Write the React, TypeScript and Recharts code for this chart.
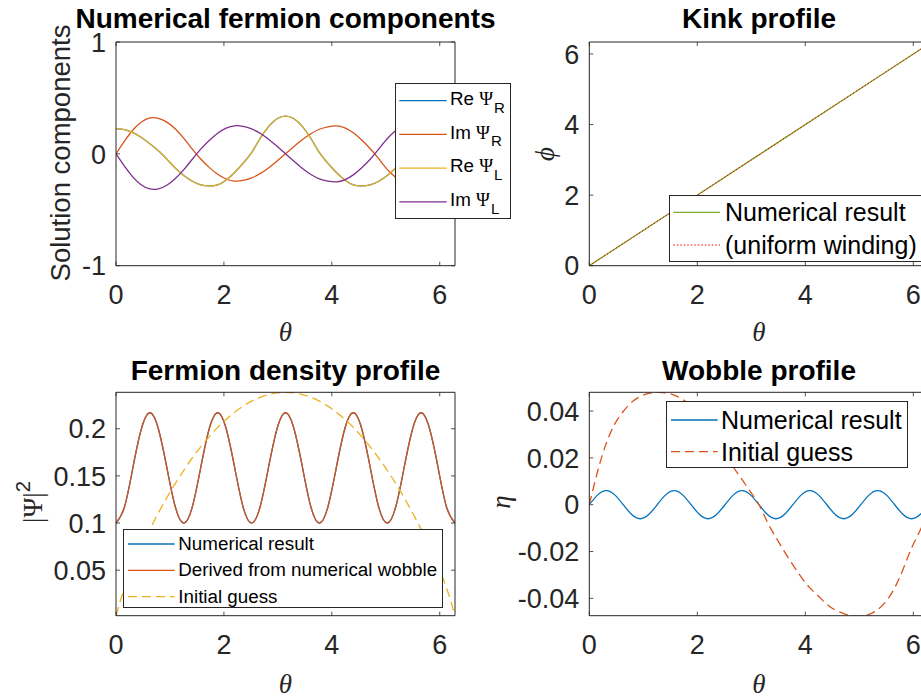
import React from 'react'
import { LineChart, Line, XAxis, YAxis, Legend } from 'recharts'

const theta = [0.000, 0.157, 0.314, 0.471, 0.628, 0.785, 0.942, 1.100, 1.257, 1.414, 1.571, 1.728, 1.885, 2.042, 2.199, 2.356, 2.513, 2.670, 2.827, 2.985, 3.142, 3.299, 3.456, 3.613, 3.770, 3.927, 4.084, 4.241, 4.398, 4.555, 4.712, 4.869, 5.027, 5.184, 5.341, 5.498, 5.655, 5.812, 5.969, 6.126, 6.283]

const fermionReR = [0.226, 0.216, 0.189, 0.146, 0.090, 0.027, -0.048, -0.126, -0.194, -0.245, -0.277, -0.286, -0.277, -0.233, -0.166, -0.084, 0.011, 0.137, 0.244, 0.314, 0.337, 0.314, 0.244, 0.137, 0.011, -0.084, -0.166, -0.233, -0.277, -0.286, -0.277, -0.245, -0.194, -0.126, -0.048, 0.027, 0.090, 0.146, 0.189, 0.216, 0.226]
const fermionImR = [0, 0.113, 0.213, 0.284, 0.321, 0.318, 0.284, 0.222, 0.139, 0.043, -0.046, -0.121, -0.183, -0.225, -0.244, -0.238, -0.215, -0.177, -0.126, -0.065, 0, 0.066, 0.128, 0.180, 0.220, 0.242, 0.250, 0.232, 0.188, 0.123, 0.046, -0.043, -0.139, -0.212, -0.284, -0.318, -0.321, -0.284, -0.213, -0.113, 0]
const fermionReL = [0.226, 0.216, 0.189, 0.146, 0.090, 0.027, -0.048, -0.126, -0.194, -0.245, -0.277, -0.286, -0.277, -0.233, -0.166, -0.084, 0.011, 0.137, 0.244, 0.314, 0.337, 0.314, 0.244, 0.137, 0.011, -0.084, -0.166, -0.233, -0.277, -0.286, -0.277, -0.245, -0.194, -0.126, -0.048, 0.027, 0.090, 0.146, 0.189, 0.216, 0.226]
const fermionImL = [0, -0.110, -0.208, -0.278, -0.314, -0.313, -0.281, -0.221, -0.141, -0.048, 0.042, 0.120, 0.185, 0.230, 0.251, 0.246, 0.223, 0.184, 0.131, 0.067, 0, -0.067, -0.131, -0.184, -0.223, -0.243, -0.250, -0.232, -0.188, -0.124, -0.048, 0.042, 0.135, 0.208, 0.270, 0.305, 0.310, 0.278, 0.210, 0.110, 0]

const kinkTheta = [0, 1.571, 3.142, 4.712, 6.283]
const kinkNumerical = [0, 1.571, 3.142, 4.712, 6.283]
const kinkUniform = [0, 1.571, 3.142, 4.712, 6.283]

const densityNumerical = [0.100, 0.117, 0.159, 0.200, 0.217, 0.200, 0.159, 0.117, 0.100, 0.117, 0.159, 0.200, 0.217, 0.200, 0.159, 0.117, 0.100, 0.117, 0.159, 0.200, 0.217, 0.200, 0.159, 0.117, 0.100, 0.117, 0.159, 0.200, 0.217, 0.200, 0.159, 0.117, 0.100, 0.117, 0.159, 0.200, 0.217, 0.200, 0.159, 0.117, 0.100]
const densityDerived = [0.100, 0.117, 0.159, 0.200, 0.217, 0.200, 0.159, 0.117, 0.100, 0.117, 0.159, 0.200, 0.217, 0.200, 0.159, 0.117, 0.100, 0.117, 0.159, 0.200, 0.217, 0.200, 0.159, 0.117, 0.100, 0.117, 0.159, 0.200, 0.217, 0.200, 0.159, 0.117, 0.100, 0.117, 0.159, 0.200, 0.217, 0.200, 0.159, 0.117, 0.100]
const densityGuess = [0.0017, 0.0312, 0.0541, 0.0745, 0.0933, 0.1107, 0.1269, 0.1420, 0.1560, 0.1690, 0.1809, 0.1917, 0.2015, 0.2101, 0.2176, 0.2240, 0.2293, 0.2334, 0.2363, 0.2381, 0.2387, 0.2381, 0.2363, 0.2334, 0.2293, 0.2240, 0.2176, 0.2101, 0.2015, 0.1917, 0.1809, 0.1690, 0.1560, 0.1420, 0.1269, 0.1107, 0.0933, 0.0745, 0.0541, 0.0312, 0.0017]

const wobbleNumerical = [0, 0.0042, 0.0060, 0.0042, 0, -0.0042, -0.0060, -0.0042, 0, 0.0042, 0.0060, 0.0042, 0, -0.0042, -0.0060, -0.0042, 0, 0.0042, 0.0060, 0.0042, 0, -0.0042, -0.0060, -0.0042, 0, 0.0042, 0.0060, 0.0042, 0, -0.0042, -0.0060, -0.0042, 0, 0.0042, 0.0060, 0.0042, 0, -0.0042, -0.0060, -0.0042, 0]
const wobbleGuess = [0, 0.0145, 0.0262, 0.0345, 0.0398, 0.0438, 0.0462, 0.0475, 0.0480, 0.0478, 0.0468, 0.0450, 0.0422, 0.0383, 0.0336, 0.0282, 0.0222, 0.0160, 0.0108, 0.0055, 0, -0.0075, -0.0140, -0.0200, -0.0257, -0.0310, -0.0355, -0.0390, -0.0425, -0.0450, -0.0465, -0.0474, -0.0476, -0.0468, -0.0448, -0.0412, -0.0355, -0.0275, -0.0185, -0.0110, -0.0030]

const thetaTicks = [0, 2, 4, 6]
const fermionTicks = [-1, 0, 1]
const kinkTicks = [0, 2, 4, 6]
const densityTicks = [0.05, 0.1, 0.15, 0.2]
const wobbleTicks = [-0.04, -0.02, 0, 0.02, 0.04]

const fermionData = theta.map((t, i) => ({ theta: t, reR: fermionReR[i], imR: fermionImR[i], reL: fermionReL[i], imL: fermionImL[i] }))
const kinkData = kinkTheta.map((t, i) => ({ theta: t, numerical: kinkNumerical[i], uniform: kinkUniform[i] }))
const densityData = theta.map((t, i) => ({ theta: t, numerical: densityNumerical[i], derived: densityDerived[i], guess: densityGuess[i] }))
const wobbleData = theta.map((t, i) => ({ theta: t, numerical: wobbleNumerical[i], guess: wobbleGuess[i] }))

const TWO_PI = 6.2832
const INK = '#262626'
const SANS = '"Liberation Sans", Arial, Helvetica, sans-serif'
const SERIF = '"Liberation Serif", "DejaVu Serif", serif'
const BLUE = '#0072BD'
const ORANGE = '#D95319'
const YELLOW = '#EDB120'
const PURPLE = '#7E2F8E'
const GREEN = '#77AC30'
const RED = '#FF0000'

// inward ticks like matlab, labels drawn by hand
const BottomTick = ({ x, y, payload }: any) => (
  <g>
    <line x1={x} x2={x} y1={y} y2={y - 4} stroke={INK} strokeWidth={0.8} />
    <text x={x} y={y + 38.5} textAnchor="middle" fontSize={27} fontFamily={SANS} fill={INK}>{String(payload.value)}</text>
  </g>
)
const LeftTick = ({ x, y, payload }: any) => (
  <g>
    <line x1={x} x2={x + 4} y1={y} y2={y} stroke={INK} strokeWidth={0.8} />
    <text x={x - 10} y={y + 9.7} textAnchor="end" fontSize={27} fontFamily={SANS} fill={INK}>{String(payload.value)}</text>
  </g>
)
const TopTick = ({ x, y }: any) => <line x1={x} x2={x} y1={y} y2={y + 4} stroke={INK} strokeWidth={0.8} />
const RightTick = ({ x, y }: any) => <line x1={x} x2={x - 4} y1={y} y2={y} stroke={INK} strokeWidth={0.8} />

function frame(yDomain: number[], yTicks: number[], yWidth: number, xHeight: number) {
  const common = { type: 'number' as const, allowDataOverflow: true, interval: 0 as const, tickSize: 0, tickMargin: 0, tickLine: false, axisLine: { stroke: INK } }
  return [
    <XAxis key="xb" {...common} dataKey="theta" domain={[0, TWO_PI]} ticks={thetaTicks} height={xHeight} tick={BottomTick} />,
    <XAxis key="xt" {...common} xAxisId="top" orientation="top" dataKey="theta" domain={[0, TWO_PI]} ticks={thetaTicks} height={1} tick={TopTick} />,
    <YAxis key="yl" {...common} domain={yDomain} ticks={yTicks} width={yWidth} tick={LeftTick} />,
    <YAxis key="yr" {...common} yAxisId="right" orientation="right" domain={yDomain} ticks={yTicks} width={1} tick={RightTick} />,
  ]
}

type Row = { label: React.ReactNode; color: string; dash?: string; width?: number }

const LegendBox = ({ rows, width, height, font, padTop, rowH, x1, x2, textX, textDy = 0 }: any) => (
  <div style={{ position: 'relative', width, height, boxSizing: 'border-box', border: `1px solid ${INK}`, background: '#fff' }}>
    <svg width={width} height={height} style={{ position: 'absolute', left: -1, top: -1 }}>
      {rows.map((r: Row, i: number) => (
        <line key={i} x1={x1} x2={x2} y1={padTop + i * rowH} y2={padTop + i * rowH} stroke={r.color} strokeWidth={r.width ?? 1.3} strokeDasharray={r.dash} />
      ))}
    </svg>
    {rows.map((r: Row, i: number) => (
      <div key={i} style={{ position: 'absolute', left: textX - 1, top: padTop + i * rowH + textDy - 1, transform: 'translateY(-50%)', fontSize: font, lineHeight: 1, whiteSpace: 'nowrap', color: '#000', fontFamily: SANS }}>
        {r.label}
      </div>
    ))}
  </div>
)

const psiLabel = (part: string, sub: string) => (
  <span>
    {part} <span style={{ fontFamily: SERIF }}>Ψ</span>
    <span style={{ fontSize: '0.8em', position: 'relative', top: '0.5em', marginLeft: 1 }}>{sub}</span>
  </span>
)

const fermionRows: Row[] = [
  { label: psiLabel('Re', 'R'), color: BLUE },
  { label: psiLabel('Im', 'R'), color: ORANGE },
  { label: psiLabel('Re', 'L'), color: YELLOW },
  { label: psiLabel('Im', 'L'), color: PURPLE },
]
const kinkRows: Row[] = [
  { label: 'Numerical result', color: GREEN },
  { label: '(uniform winding)', color: RED, dash: '1.5 2', width: 1 },
]
const densityRows: Row[] = [
  { label: 'Numerical result', color: BLUE },
  { label: 'Derived from numerical wobble', color: ORANGE },
  { label: 'Initial guess', color: YELLOW, dash: '9 5' },
]
const wobbleRows: Row[] = [
  { label: 'Numerical result', color: BLUE },
  { label: 'Initial guess', color: ORANGE, dash: '9 5' },
]

const Txt = ({ x, y, size = 27, rotate = false, bold = false, italic = false, serif = false, color = INK, lh = 1, children }: any) => (
  <div
    style={{
      position: 'absolute', left: x, top: y, transform: `translate(-50%, -50%)${rotate ? ' rotate(-90deg)' : ''}`,
      fontSize: size, lineHeight: lh, whiteSpace: 'nowrap', fontWeight: bold ? 700 : 400, fontStyle: italic ? 'italic' : 'normal',
      fontFamily: serif ? SERIF : SANS, color,
    }}
  >
    {children}
  </div>
)

const lineProps = { dot: false, isAnimationActive: false, type: 'natural' as const, strokeWidth: 1.3 }

export default function App() {
  return (
    <div style={{ position: 'absolute', left: 0, top: 0, width: 921, height: 698, overflow: 'hidden', background: '#fff', fontFamily: SANS }}>
      <div style={{ position: 'absolute', left: 0, top: 0 }}>
        <LineChart width={520} height={340} data={fermionData} margin={{ top: 41, right: 64, bottom: 0, left: 0 }}>
          {frame([-1, 1], fermionTicks, 116, 74.3)}
          <Line {...lineProps} dataKey="reR" name="Re ΨR" stroke={BLUE} />
          <Line {...lineProps} dataKey="imR" name="Im ΨR" stroke={ORANGE} />
          <Line {...lineProps} dataKey="reL" name="Re ΨL" stroke={YELLOW} />
          <Line {...lineProps} dataKey="imL" name="Im ΨL" stroke={PURPLE} />
          <Legend layout="vertical" align="center" verticalAlign="middle" wrapperStyle={{ left: 395, top: 83.3, width: 116, height: 136 }}
            content={() => <LegendBox rows={fermionRows} width={116} height={136} font={18.8} padTop={17.7} rowH={33.7} x1={4.3} x2={51.7} textX={55} textDy={-2} />} />
        </LineChart>
      </div>

      <div style={{ position: 'absolute', left: 460, top: 0 }}>
        <LineChart width={480} height={340} data={kinkData} margin={{ top: 41, right: 10.4, bottom: 0, left: 0 }}>
          {frame([0, 6.34], kinkTicks, 129.3, 74.3)}
          <Line dataKey="numerical" name="Numerical result" stroke={GREEN} strokeWidth={1.3} dot={false} type="linear" isAnimationActive={false} />
          <Line dataKey="uniform" name="(uniform winding)" stroke={RED} strokeWidth={1} strokeDasharray="1.5 2" dot={false} type="linear" isAnimationActive={false} />
          <Legend layout="vertical" align="center" verticalAlign="middle" wrapperStyle={{ left: 209, top: 195, width: 262, height: 67 }}
            content={() => <LegendBox rows={kinkRows} width={262} height={67} font={25} padTop={17.3} rowH={32.7} x1={4.3} x2={51} textX={56} />} />
        </LineChart>
      </div>

      <div style={{ position: 'absolute', left: 0, top: 340 }}>
        <LineChart width={470} height={358} data={densityData} margin={{ top: 51.3, right: 14, bottom: 0, left: 0 }}>
          {frame([0.0017, 0.2387], densityTicks, 116, 82.3)}
          <Line {...lineProps} dataKey="numerical" name="Numerical result" stroke={BLUE} />
          <Line {...lineProps} dataKey="derived" name="Derived from numerical wobble" stroke={ORANGE} />
          <Line {...lineProps} dataKey="guess" name="Initial guess" stroke={YELLOW} strokeDasharray="9 5" />
          <Legend layout="vertical" align="center" verticalAlign="middle" wrapperStyle={{ left: 123.3, top: 189, width: 319.4, height: 79 }}
            content={() => <LegendBox rows={densityRows} width={319.4} height={79} font={18.8} padTop={15} rowH={26.3} x1={5} x2={51.7} textX={55} />} />
        </LineChart>
      </div>

      <div style={{ position: 'absolute', left: 460, top: 340 }}>
        <LineChart width={480} height={358} data={wobbleData} margin={{ top: 51.3, right: 10.4, bottom: 0, left: 0 }}>
          {frame([-0.0474, 0.048], wobbleTicks, 129.3, 82.3)}
          <Line {...lineProps} dataKey="numerical" name="Numerical result" stroke={BLUE} />
          <Line {...lineProps} dataKey="guess" name="Initial guess" stroke={ORANGE} strokeDasharray="9 5" />
          <Legend layout="vertical" align="center" verticalAlign="middle" wrapperStyle={{ left: 205.7, top: 61, width: 242.6, height: 67 }}
            content={() => <LegendBox rows={wobbleRows} width={242.6} height={67} font={25} padTop={19} rowH={31.7} x1={5} x2={51.6} textX={55.3} />} />
        </LineChart>
      </div>

      <Txt x={285.5} y={19.2} size={28} bold color="#000" lh={0.72}>Numerical fermion components</Txt>
      <Txt x={759} y={19.2} size={28} bold color="#000" lh={0.72}>Kink profile</Txt>
      <Txt x={285.5} y={370.5} size={28} bold color="#000" lh={0.72}>Fermion density profile</Txt>
      <Txt x={759} y={370.5} size={28} bold color="#000" lh={0.72}>Wobble profile</Txt>

      <Txt x={285.5} y={332} italic serif>θ</Txt>
      <Txt x={759} y={332} italic serif>θ</Txt>
      <Txt x={285.5} y={684} italic serif>θ</Txt>
      <Txt x={759} y={684} italic serif>θ</Txt>

      <Txt x={61} y={153} size={27.5} rotate lh={0.8}>Solution components</Txt>
      <Txt x={545} y={154} italic serif rotate>ϕ</Txt>
      <Txt x={33} y={502} rotate>
        <span style={{ fontFamily: SERIF }}>|Ψ|</span>
        <span style={{ fontSize: '0.75em', position: 'relative', top: '-0.6em' }}>2</span>
      </Txt>
      <Txt x={501} y={502} italic serif rotate>η</Txt>
    </div>
  )
}
